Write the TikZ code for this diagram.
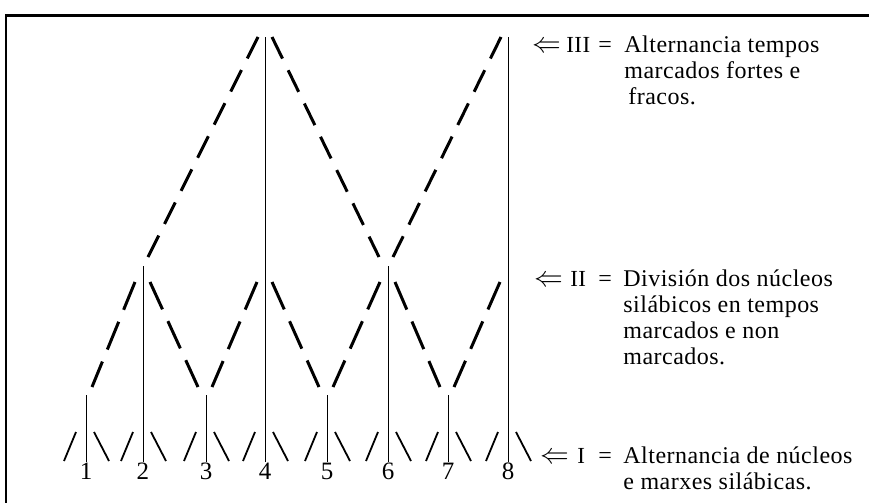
\documentclass[tikz,border=0pt]{standalone}
\usepackage{fontspec}
\setmainfont{Liberation Serif}[LetterSpace=2]

\begin{document}
\begin{tikzpicture}[x=0.5pt,y=-0.5pt,
    eixo/.style={line width=0.5pt},
    marxe/.style={line width=0.9pt},
    tempoII/.style={line width=1.5pt,dash pattern=on 15pt off 6.5pt},
    tempoIII/.style={line width=1.5pt,dash pattern=on 12pt off 6.5pt},
    rotulo/.style={anchor=base west,inner sep=0pt,font=\fontsize{12}{13}\selectfont},
    frecha/.style={rotulo,font=\fontsize{13.5}{14}\selectfont},
    nivel/.style={rotulo,font=\fontsize{11.5}{13}\selectfont},
    cifra/.style={inner sep=0pt,font=\fontsize{12.5}{14}\selectfont}]
                \useasboundingbox (0,0) rectangle (869,503);
                \draw[line width=1.2pt] (869,15.5) -- (6,15.5) -- (6,503);
                % columnas e marxes (nivel I)
                \foreach \i/\x/\h in {1/86/395,2/143/266,3/206/395,4/265/37,5/327/395,6/388/266,7/448/395,8/508/37} {
                    \coordinate (t\i) at (\x,\h);
                    \coordinate (b\i) at (\x,462);
                    \coordinate (l\i) at (\x,387);
                    \coordinate (m\i) at (\x,282);
                    \coordinate (k\i) at (\x,257);
                    \coordinate (h\i) at (\x,37);
                    \draw[eixo] (t\i) -- (b\i);
                    \node[cifra] (n\i) at (\x,471.5) {\i};
                    \draw[marxe] ([shift={(-22,-1)}]b\i) -- ++(12,-29);
                    \draw[marxe] ([shift={(8,-30)}]b\i) -- ++(15,29);
                }
                % nivel II
                \foreach \a/\b in {1/2,3/4,5/6,7/8}
                    \draw[tempoII] ([shift={(-8,0)}]m\b) -- ([shift={(6,0)}]l\a);
                \foreach \a/\b in {2/3,4/5,6/7}
                    \draw[tempoII] ([shift={(7,0)}]m\a) -- ([shift={(-8,0)}]l\b);
                % nivel III
                \foreach \a/\b in {2/4,6/8}
                    \draw[tempoIII] ([shift={(-7,0)}]h\b) -- ([shift={(5,0)}]k\a);
                \draw[tempoIII] ([shift={(7,0)}]h4) -- ([shift={(-9,0)}]k6);
                % lendas
                \node[frecha] (fIII) at (532,53) {$\Leftarrow$};
                \node[nivel] (nIII) at (566,53) {III};
                \node[rotulo] (eIII) at (598,53) {=};
                \node[rotulo] (tIII) at (624,53) {\begin{tabular}[t]{@{}l@{}}Alternancia tempos\\marcados fortes e\\\hspace{2pt}fracos.\end{tabular}};
                \node[frecha] (fII) at (534,286) {$\Leftarrow$};
                \node[nivel] (nII) at (570,286) {II};
                \node[rotulo] (eII) at (598,286) {=};
                \node[rotulo] (tII) at (623,286) {\begin{tabular}[t]{@{}l@{}}División dos núcleos\\silábicos en tempos\\marcados e non\\marcados.\end{tabular}};
                \node[frecha] (fI) at (540,463) {$\Leftarrow$};
                \node[nivel] (nI) at (577,463) {I};
                \node[rotulo] (eI) at (598,463) {=};
                \node[rotulo] (tI) at (623,463) {\begin{tabular}[t]{@{}l@{}}Alternancia de núcleos\\e marxes silábicas.\end{tabular}};
            \end{tikzpicture}
\end{document}
